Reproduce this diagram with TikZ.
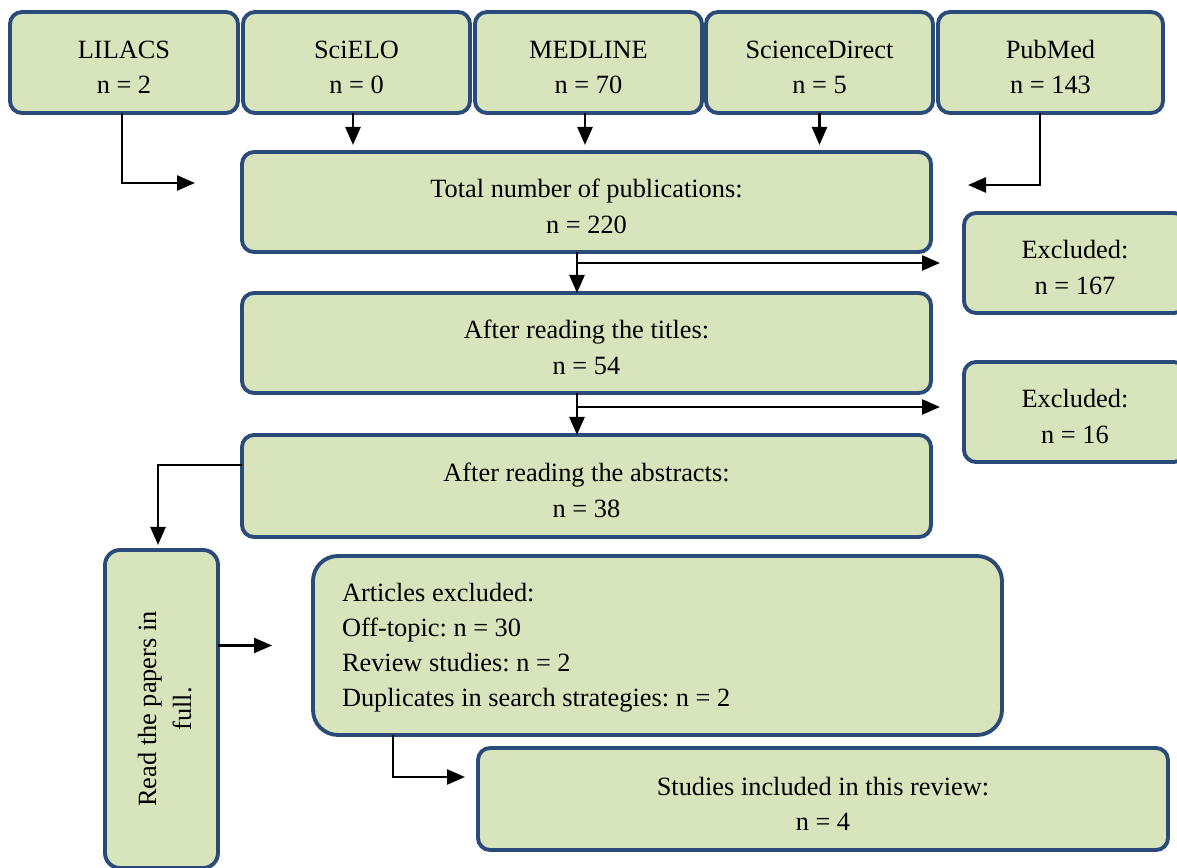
\documentclass[tikz,border=0pt]{standalone}
\usepackage{fontspec}
\setmainfont{Liberation Serif}
\usepackage{tikz}
\usetikzlibrary{arrows.meta, calc, positioning}
\definecolor{boxfill}{RGB}{216,228,188}
\definecolor{boxline}{RGB}{ 42, 74,122}

\begin{document}
\begin{tikzpicture}[
    box/.style={draw=boxline, fill=boxfill, line width=2.2pt, rounded corners=0.24cm,
        align=flush center, inner sep=0pt, outer sep=0pt, text width=#1, minimum width=#1,
        text height=15.5pt, font=\fontsize{15}{20}\selectfont\frenchspacing},
    arr/.style={-{Triangle[length=0.36cm, width=0.3cm]}, line width=1.4pt}
]

    \useasboundingbox (0,0) rectangle (23.54,-17.36);

    %% Databases
    \node[box=4.56cm, minimum height=2.02cm] (lil) at (2.48,-1.25) {LILACS\\n = 2};
    \node[box=4.54cm, minimum height=2.02cm] (sci) at (7.13,-1.25) {SciELO\\n = 0};
    \node[box=4.54cm, minimum height=2.02cm] (med) at (11.77,-1.25) {MEDLINE\\n = 70};
    \node[box=4.54cm, minimum height=2.02cm] (sdi) at (16.39,-1.25) {ScienceDirect\\n = 5};
    \node[box=4.50cm, minimum height=2.02cm] (pub) at (21.01,-1.25) {PubMed\\n = 143};

    %% Screening
    \node[box=13.78cm, minimum height=2.0cm] (tot) at (11.73,-4.04) {Total number of publications:\\n = 220};
    \node[box=4.44cm, minimum height=2.0cm] (exc1) at (21.50,-5.26) {Excluded:\\n = 167};
    \node[box=13.78cm, minimum height=2.0cm] (tit) at (11.73,-6.86) {After reading the titles:\\n = 54};
    \node[box=4.44cm, minimum height=2.0cm] (exc2) at (21.50,-8.24) {Excluded:\\n = 16};
    \node[box=13.78cm, minimum height=2.04cm] (abs) at (11.73,-9.72) {After reading the abstracts:\\n = 38};

    %% Full text
    \node[box=6.36cm, rounded corners=0.3cm, minimum height=2.26cm, rotate=90, text height=14pt] (read) at (3.23,-14.18) {Read the papers in\\full.};
    \node[box=12.62cm, rounded corners=0.5cm, minimum height=3.58cm,
        align=flush left, inner xsep=0.58cm, text height=13pt] (art) at (13.15,-12.91)
        {Articles excluded:\\Off-topic: n = 30\\Review studies: n = 2\\Duplicates in search strategies: n = 2};
    \node[box=13.8cm, minimum height=2.04cm] (stu) at (16.46,-15.98) {Studies included in this review:\\n = 4};

    %% Arrows from the databases
    \coordinate (lilend) at (3.90,-3.66);
    \coordinate (pubend) at (19.36,-3.70);
    \draw[arr] ([xshift=-0.04cm]lil.south) |- (lilend);
    \draw[arr, shorten >=0.14cm] ([xshift=-0.07cm]sci.south) -- ([xshift=-0.07cm]sci.south |- tot.north);
    \draw[arr, shorten >=0.14cm] ([xshift=-0.07cm]med.south) -- ([xshift=-0.07cm]med.south |- tot.north);
    \draw[arr, shorten >=0.14cm] (sdi.south) -- (sdi.south |- tot.north);
    \draw[arr] ([xshift=-0.21cm]pub.south) |- (pubend);

    %% Screening arrows
    \draw[arr] ([xshift=-0.19cm]tot.south) -- ([xshift=-0.19cm]tot.south |- tit.north);
    \coordinate (b1) at ([xshift=-0.19cm]tot.south |- exc1.west);
    \draw[arr, shorten >=0.48cm] (b1) -- (exc1.west);
    \draw[arr] ([xshift=-0.19cm]tit.south) -- ([xshift=-0.19cm]tit.south |- abs.north);
    \coordinate (b2) at ([xshift=-0.19cm]tit.south |- 0,-8.14);
    \draw[arr, shorten >=0.48cm] (b2) -- (b2 -| exc2.west);

    %% Full text arrows
    \draw[arr, shorten >=0.1cm] ([yshift=0.42cm]abs.west) -| ([xshift=-0.07cm]read.east);
    \draw[arr, shorten >=0.82cm] (read.south |- art.west) -- (art.west);
    \draw[arr] ([xshift=-5.29cm]art.south) |- ([xshift=-0.26cm, yshift=0.44cm]stu.west);

\end{tikzpicture}
\end{document}
